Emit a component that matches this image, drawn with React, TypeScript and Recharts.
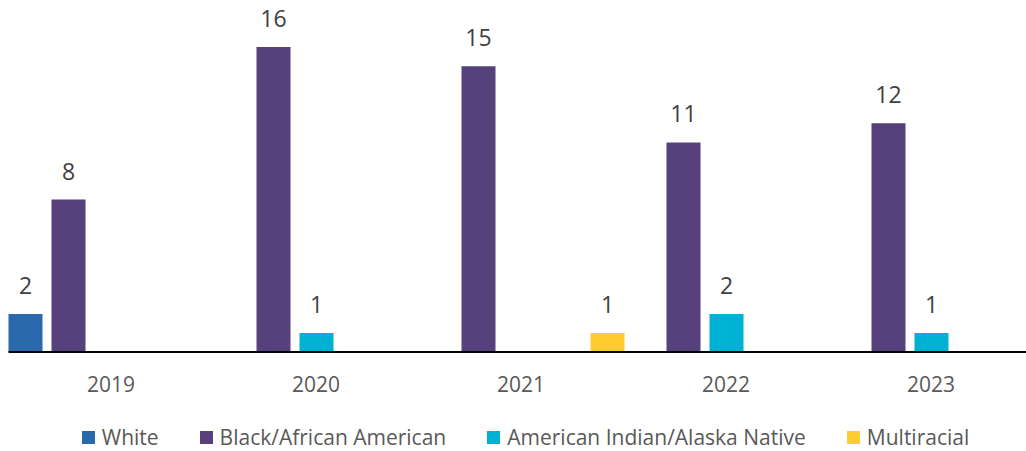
import React from "react";
import { BarChart, Bar, XAxis, YAxis, Legend, LabelList } from "recharts";

const years = ["2019", "2020", "2021", "2022", "2023"];
const white = [2, null, null, null, null];
const black = [8, 16, 15, 11, 12];
const aian = [null, 1, null, 2, 1];
const blankSlot = [null, null, null, null, null];
const multiracial = [null, null, 1, null, null];

const seriesNames = ["White", "Black/African American", "American Indian/Alaska Native", "", "Multiracial"];
const seriesColors = ["#2A6AAC", "#56417C", "#00B1D6", "#FFFFFF", "#FFCC2F"];

const data = years.map((y, i) => ({
  year: y,
  white: white[i],
  black: black[i],
  aian: aian[i],
  blank: blankSlot[i],
  multi: multiracial[i],
}));

const FONT = "'Open Sans', 'Noto Sans', sans-serif";

const renderLabel = (props: any) => {
  const { x, y, width, value } = props;
  if (value === null || value === undefined || value === 0) return null;
  return (
    <text
      x={Number(x) + Number(width) / 2}
      y={Number(y) - 20}
      textAnchor="middle"
      fontFamily={FONT}
      fontSize={23}
      fill="#404040"
    >
      {value}
    </text>
  );
};

const renderTick = (props: any) => {
  const { x, y, payload } = props;
  return (
    <text x={x} y={y + 40} textAnchor="middle" fontFamily={FONT} fontSize={21} fill="#595959">
      {payload.value}
    </text>
  );
};

const legendItems = [0, 1, 2, 4];

const renderLegend = () => (
  <div
    style={{
      display: "flex",
      justifyContent: "center",
      alignItems: "center",
      height: 39,
      paddingTop: 11,
      boxSizing: "border-box",
      fontFamily: FONT,
      fontSize: 21,
      color: "#595959",
      paddingLeft: 25,
      width: 1026,
    }}
  >
    {legendItems.map((idx, k) => (
      <div
        key={idx}
        style={{
          display: "flex",
          alignItems: "center",
          marginRight: k < legendItems.length - 1 ? 41 : 0,
          whiteSpace: "nowrap",
        }}
      >
        <span
          style={{
            display: "inline-block",
            width: 13,
            height: 13,
            background: seriesColors[idx],
            marginRight: 7,
          }}
        />
        <span style={{ lineHeight: "28px" }}>{seriesNames[idx]}</span>
      </div>
    ))}
  </div>
);

const keys = ["white", "black", "aian", "blank", "multi"];

export default function App() {
  return (
    <div style={{ position: "absolute", left: 0, top: 0, width: 1026, height: 451, overflow: "hidden" }}>
      <BarChart
        width={1034}
        height={451}
        data={data}
        margin={{ top: 9, right: 0.5, bottom: 0, left: 8.5 }}
        barCategoryGap={0}
        barGap={9}
      >
        <XAxis
          dataKey="year"
          axisLine={{ stroke: "#000000", strokeWidth: 2 }}
          tickLine={false}
          tickSize={0}
          tickMargin={0}
          height={60}
          tick={renderTick}
          interval={0}
        />
        <YAxis hide domain={[0, 18]} />
        <Legend
          verticalAlign="bottom"
          height={39}
          content={renderLegend}
          wrapperStyle={{ left: 0, width: 1026 }}
        />
        {keys.map((k, i) => (
          <Bar
            key={k}
            dataKey={k}
            name={seriesNames[i] || "blank"}
            fill={seriesColors[i]}
            isAnimationActive={false}
            legendType={k === "blank" ? "none" : "square"}
          >
            <LabelList dataKey={k} content={renderLabel} />
          </Bar>
        ))}
      </BarChart>
    </div>
  );
}
